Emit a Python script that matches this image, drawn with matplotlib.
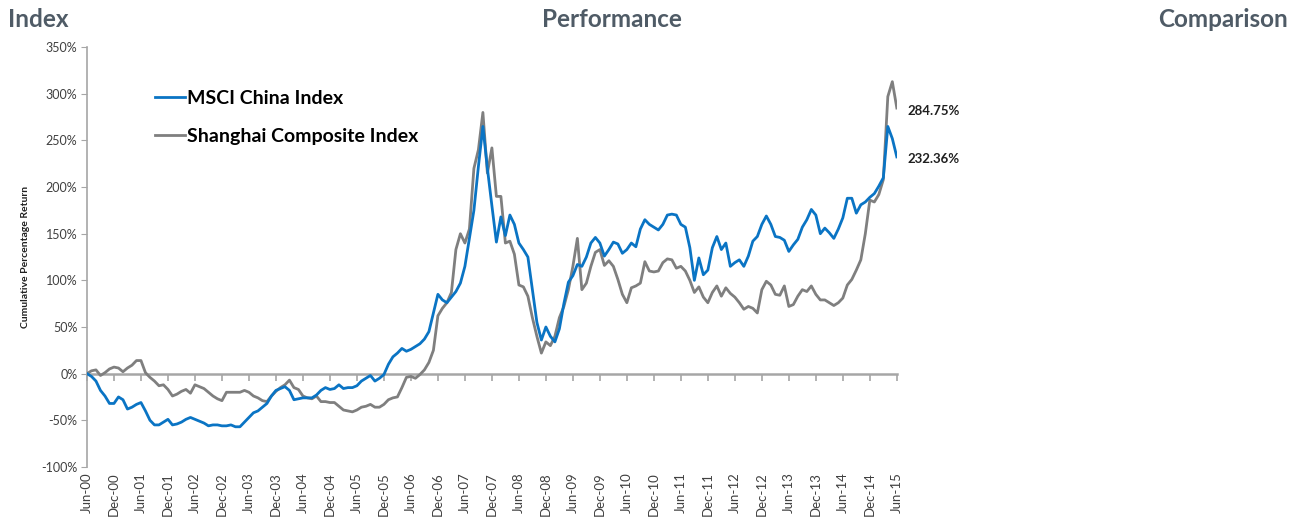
import numpy as np
import matplotlib
matplotlib.use("Agg")
import matplotlib.pyplot as plt

# monthly cumulative returns (%), Jun-2000 .. Jun-2015
msci_china = [
    0, -3, -8, -18, -24, -32, -32, -25, -28, -38, -36, -33,
    -31, -40, -50, -55, -55, -52, -49, -55, -54, -52, -49, -47,
    -49, -51, -53, -56, -55, -55, -56, -56, -55, -57, -57, -52,
    -47, -42, -40, -36, -32, -24, -18, -16, -14, -18, -28, -27,
    -26, -26, -26, -23, -18, -15, -17, -16, -12, -16, -15, -15,
    -13, -8, -5, -2, -8, -5, -1, 10, 18, 22, 27, 24,
    26, 29, 32, 37, 45, 65, 85, 79, 76, 82, 88, 97,
    115, 145, 175, 222, 265, 220, 180, 141, 168, 148, 170, 160,
    140, 133, 125, 90, 55, 36, 50, 40, 34, 48, 75, 98,
    105, 117, 115, 125, 140, 146, 140, 126, 133, 141, 139, 129,
    133, 140, 136, 155, 165, 160, 157, 154, 160, 170, 171, 170,
    160, 157, 135, 100, 124, 106, 111, 135, 147, 133, 140, 115,
    119, 122, 115, 126, 142, 147, 160, 169, 160, 147, 146, 143,
    131, 138, 144, 157, 165, 176, 170, 150, 156, 151, 145, 155,
    167, 188, 188, 172, 181, 184, 189, 193, 201, 210, 265, 252,
    232.36,
]
shanghai = [
    0, 3, 4, -2, 1, 5, 7, 6, 2, 6, 9, 14,
    14, 1, -4, -8, -13, -12, -17, -24, -22, -19, -17, -21,
    -12, -14, -16, -20, -24, -27, -29, -20, -20, -20, -20, -18,
    -20, -24, -26, -29, -30, -24, -19, -15, -12, -7, -15, -17,
    -24, -26, -27, -24, -30, -30, -31, -31, -35, -39, -40, -41,
    -39, -36, -35, -33, -36, -36, -33, -28, -26, -25, -15, -4,
    -3, -5, -1, 4, 12, 25, 62, 70, 76, 87, 133, 150,
    140, 155, 220, 240, 280, 215, 242, 190, 190, 140, 142, 128,
    95, 93, 83, 60, 40, 22, 34, 30, 40, 60, 72, 90,
    115, 145, 90, 97, 115, 130, 133, 116, 121, 115, 101, 85,
    76, 92, 94, 97, 120, 110, 109, 110, 119, 123, 122, 113,
    115, 110, 100, 87, 93, 82, 76, 87, 94, 83, 92, 86,
    82, 76, 69, 72, 70, 65, 90, 99, 95, 85, 84, 94,
    72, 74, 83, 90, 88, 94, 85, 79, 79, 76, 73, 76,
    81, 95, 101, 111, 122, 150, 186, 184, 192, 208, 297, 313,
    284.75,
]
tick_labels = ["Jun-00", "Dec-00", "Jun-01", "Dec-01", "Jun-02", "Dec-02",
               "Jun-03", "Dec-03", "Jun-04", "Dec-04", "Jun-05", "Dec-05",
               "Jun-06", "Dec-06", "Jun-07", "Dec-07", "Jun-08", "Dec-08",
               "Jun-09", "Dec-09", "Jun-10", "Dec-10", "Jun-11", "Dec-11",
               "Jun-12", "Dec-12", "Jun-13", "Dec-13", "Jun-14", "Dec-14",
               "Jun-15"]

months = np.arange(len(msci_china))
tick_pos = np.arange(len(tick_labels)) * 6

plt.rcParams['font.family'] = ['Lato', 'DejaVu Sans']

blue = '#0a74c4'
grey = '#7f7f7f'
axis_col = '#a6a6a6'
head_col = '#4f5b66'

fig = plt.figure(figsize=(13.02, 5.24), dpi=100)
ax = fig.add_axes([0.0668, 0.109, 0.622, 0.801])

ax.plot(months, shanghai, color=grey, lw=2.0, label='Shanghai Composite Index', zorder=3)
ax.plot(months, msci_china, color=blue, lw=2.0, label='MSCI China Index', zorder=4)

ax.set_xlim(0, 180)
ax.set_ylim(-100, 350)
ax.set_yticks(np.arange(-100, 351, 50))
ax.set_yticklabels([f"{v}%" for v in range(-100, 351, 50)], fontsize=9, color='#404040')
ax.set_xticks(tick_pos)
ax.set_xticklabels(tick_labels, rotation=90, fontsize=9.5, color='#404040')
ax.tick_params(axis='x', length=0, pad=4)
ax.tick_params(axis='y', length=4, color=axis_col, direction='out', pad=3)

for s in ['top', 'right', 'bottom']:
    ax.spines[s].set_visible(False)
ax.spines['left'].set_color(axis_col)
ax.spines['left'].set_linewidth(1.2)

# zero line with half-year tick marks
sec = ax.secondary_xaxis(100 / 450)
sec.set_xticks(tick_pos)
sec.set_xticklabels([])
sec.tick_params(axis='x', length=5, color=axis_col, width=1.2, direction='out')
sec.spines['bottom'].set_color(axis_col)
sec.spines['bottom'].set_linewidth(1.8)

ax.set_ylabel('Cumulative Percentage Return', fontsize=7.5, fontweight='bold', color='#202020', labelpad=8)

handles, labels = ax.get_legend_handles_labels()
leg = ax.legend(handles[::-1], labels[::-1], loc='upper left', bbox_to_anchor=(0.062, 0.94),
                frameon=False, handlelength=1.55, handletextpad=0.1,
                labelspacing=1.1, prop={'weight': 'bold', 'size': 14})

ax.text(182.3, msci_china[-1] - 2, f"{msci_china[-1]:.2f}%", fontsize=9.5, fontweight='bold',
        va='center', ha='left', color='#202020', clip_on=False)
ax.text(182.3, shanghai[-1] - 3, f"{shanghai[-1]:.2f}%", fontsize=9.5, fontweight='bold',
        va='center', ha='left', color='#202020', clip_on=False)

fig.text(0.006, 0.962, 'Index', fontsize=17.5, fontweight='bold', color=head_col, va='center', ha='left')
fig.text(0.47, 0.962, 'Performance', fontsize=17.5, fontweight='bold', color=head_col, va='center', ha='center')
fig.text(0.989, 0.962, 'Comparison', fontsize=17.5, fontweight='bold', color=head_col, va='center', ha='right')

plt.savefig('out.png', dpi=100)
